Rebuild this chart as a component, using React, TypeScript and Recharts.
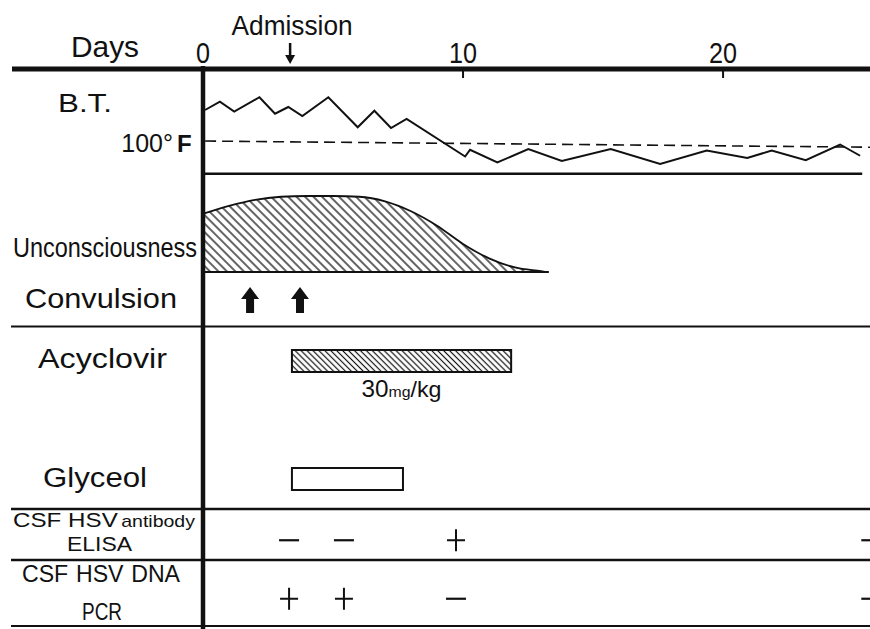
import React from 'react';
import {
  ComposedChart,
  ScatterChart,
  BarChart,
  Line,
  Area,
  Bar,
  Cell,
  Scatter,
  LabelList,
  XAxis,
  YAxis,
  ReferenceLine,
} from 'recharts';

// ---------- data ----------
const dayTicks = [0, 10, 20];
const admissionDay = 3.35;

const btDays = [0.08, 0.65, 1.2, 2.17, 2.77, 3.28, 3.82, 4.82, 5.95, 6.59, 7.23, 7.83, 10.08, 10.27, 11.32, 12.51, 13.8, 15.68, 17.58, 19.37, 20.93, 21.87, 23.18, 24.5, 25.27];
const btTempsF = [102.2, 102.75, 102.1, 103.05, 101.95, 102.4, 101.8, 103.05, 101.05, 102.15, 101.0, 101.6, 99.1, 99.55, 98.7, 99.6, 98.8, 99.6, 98.6, 99.5, 99.0, 99.5, 98.85, 99.9, 99.15];
const feverLineDays = [0.08, 25.65];
const feverLineTemps = [100.13, 99.72];

const uncDays = [0.05, 1, 2, 3, 4, 5, 6, 7, 8, 9, 10, 11, 12, 13, 13.2];
const uncLevels = [0.77, 0.87, 0.95, 0.99, 1, 1, 0.99, 0.93, 0.8, 0.61, 0.37, 0.18, 0.06, 0.01, 0];

const convulsionDays = [1.81, 3.73];

const drugNames = ['Acyclovir', 'Glyceol'];
const drugStart = [3.42, 3.42];
const drugEnd = [11.85, 7.69];
const drugDose = ['30mg/kg', ''];

const csfDays = [3.31, 5.42, 9.73, 25.7];
const elisaResults = ['-', '-', '+', '-'];
const pcrResults = ['+', '+', '-', '-'];

// ---------- layout ----------
const W = 870;
const LEFT = 203;
const X_DOMAIN: [number, number] = [0, 25.65];
const INK = '#111';
const SANS = "'Liberation Sans', Arial, sans-serif";

const btData = btDays.map((d, i) => ({ day: d, temp: btTempsF[i] }));
const uncData = uncDays.map((d, i) => ({ day: d, level: uncLevels[i] }));
const convData = convulsionDays.map((d) => ({ day: d, row: 0.5 }));
const drugData = drugNames.map((n, i) => ({ name: n, span: [drugStart[i], drugEnd[i]], dose: drugDose[i] }));
const elisaData = csfDays.map((d, i) => ({ day: d, row: 1.5, result: elisaResults[i] }));
const pcrData = csfDays.map((d, i) => ({ day: d, row: 0.5, result: pcrResults[i] }));

const DayTick = (props: any) => {
  const { x, y, payload } = props;
  const s = String(payload.value);
  return (
    <g>
      <text x={x} y={y} textAnchor="middle" fontSize={30} fontFamily={SANS} fill={INK}
        textLength={14 * s.length} lengthAdjust="spacingAndGlyphs">{s}</text>
      {payload.value !== 0 && (
        <line x1={x} x2={x} y1={y + 6} y2={y + 15} stroke={INK} strokeWidth={2} />
      )}
    </g>
  );
};

const renderAdmission = (props: any) => {
  const vb = props.viewBox || {};
  const x = vb.x;
  const top = vb.y;
  return (
    <g>
      <text x={x + 2} y={top - 34} textAnchor="middle" fontSize={27} fontFamily={SANS} fill={INK}
        textLength={121} lengthAdjust="spacingAndGlyphs">Admission</text>
      <line x1={x} x2={x} y1={top - 26} y2={top - 12} stroke={INK} strokeWidth={2.5} />
      <polygon points={`${x - 5},${top - 14} ${x + 5},${top - 14} ${x},${top - 5}`} fill={INK} />
    </g>
  );
};

const renderDose = (props: any) => {
  const { x, y, width, height, value } = props;
  if (!value) return null;
  const cx = x + width / 2;
  return (
    <text x={cx} y={y + height + 25} textAnchor="middle" fontFamily={SANS} fill={INK}
      textLength={80} lengthAdjust="spacingAndGlyphs">
      <tspan fontSize={23}>30</tspan>
      <tspan fontSize={15}>mg</tspan>
      <tspan fontSize={22}>/kg</tspan>
    </text>
  );
};

const ArrowUp = (props: any) => {
  const { cx, cy } = props;
  const pts = [
    [cx, cy - 14], [cx - 9, cy - 2], [cx - 4, cy - 2], [cx - 4, cy + 12],
    [cx + 4, cy + 12], [cx + 4, cy - 2], [cx + 9, cy - 2],
  ].map((p) => p.join(',')).join(' ');
  return <polygon points={pts} fill={INK} />;
};

const Sign = (props: any) => {
  const { cx, cy, payload } = props;
  if (payload.result === '+') {
    return (
      <g stroke={INK} strokeWidth={2}>
        <line x1={cx - 9} x2={cx + 9} y1={cy} y2={cy} />
        <line x1={cx} x2={cx} y1={cy - 11} y2={cy + 11} />
      </g>
    );
  }
  return <line x1={cx - 10} x2={cx + 10} y1={cy} y2={cy} stroke={INK} strokeWidth={2.2} />;
};

function Frame() {
  const t = { fontFamily: SANS, fill: INK } as const;
  return (
    <svg width={W} height={629} style={{ position: 'absolute', left: 0, top: 0 }}>
      <defs>
        <pattern id="hatchWide" width="6" height="6" patternUnits="userSpaceOnUse" patternTransform="rotate(-45)">
          <line x1="3" y1="0" x2="3" y2="6" stroke={INK} strokeWidth="1.3" />
        </pattern>
        <pattern id="hatchDense" width="4.2" height="4.2" patternUnits="userSpaceOnUse" patternTransform="rotate(-45)">
          <line x1="2.1" y1="0" x2="2.1" y2="4.2" stroke={INK} strokeWidth="1.2" />
        </pattern>
      </defs>
      <rect x={0} y={0} width={W} height={629} fill="#fff" />
      {/* table rules */}
      <line x1={12} x2={LEFT} y1={69} y2={69} stroke={INK} strokeWidth={5} />
      <line x1={LEFT} x2={LEFT} y1={66} y2={629} stroke={INK} strokeWidth={4.5} />
      <line x1={11} x2={W} y1={326.5} y2={326.5} stroke={INK} strokeWidth={2.2} />
      <line x1={11} x2={W} y1={509} y2={509} stroke={INK} strokeWidth={2.5} />
      <line x1={11} x2={W} y1={560} y2={560} stroke={INK} strokeWidth={2.5} />
      <line x1={11} x2={W} y1={626} y2={626} stroke={INK} strokeWidth={2} />
      {/* row labels */}
      <text x={71} y={57} fontSize={30} textLength={68} lengthAdjust="spacingAndGlyphs" {...t}>Days</text>
      <text x={58} y={112} fontSize={26} textLength={54} lengthAdjust="spacingAndGlyphs" {...t}>B.T.</text>
      <text x={173} y={152} fontSize={25} textAnchor="end" {...t}>100°</text>
      <text x={177} y={152} fontSize={24} fontWeight="bold" {...t}>F</text>
      <text x={13} y={257} fontSize={28} textLength={184} lengthAdjust="spacingAndGlyphs" {...t}>Unconsciousness</text>
      <text x={25} y={308} fontSize={28} textLength={152} lengthAdjust="spacingAndGlyphs" {...t}>Convulsion</text>
      <text x={38} y={368} fontSize={27} textLength={129} lengthAdjust="spacingAndGlyphs" {...t}>Acyclovir</text>
      <text x={43} y={487} fontSize={27} textLength={104} lengthAdjust="spacingAndGlyphs" {...t}>Glyceol</text>
      <text x={13} y={527} textLength={182} lengthAdjust="spacingAndGlyphs" {...t}>
        <tspan fontSize={21}>CSF</tspan>
        <tspan fontSize={21} dx={6}>HSV</tspan>
        <tspan fontSize={17} dx={3}>antibody</tspan>
      </text>
      <text x={99.5} y={551} fontSize={20} textAnchor="middle" textLength={65} lengthAdjust="spacingAndGlyphs" {...t}>ELISA</text>
      <text x={22} y={582} fontSize={24} textLength={158} lengthAdjust="spacingAndGlyphs" {...t}>
        <tspan>CSF</tspan>
        <tspan dx={8}>HSV</tspan>
        <tspan dx={8}>DNA</tspan>
      </text>
      <text x={102} y={620} fontSize={24} textAnchor="middle" textLength={40} lengthAdjust="spacingAndGlyphs" {...t}>PCR</text>
    </svg>
  );
}

const abs = (top: number): React.CSSProperties => ({ position: 'absolute', left: 0, top });

export default function App() {
  return (
    <div style={{ position: 'absolute', left: 0, top: 0, width: W, height: 629, overflow: 'hidden', background: '#fff' }}>
      <Frame />

      {/* Days axis + body temperature */}
      <div style={abs(0)}>
        <ComposedChart width={W} height={176} data={btData} margin={{ top: 39, right: 0, bottom: 1, left: LEFT }}>
          <XAxis type="number" dataKey="day" orientation="top" domain={X_DOMAIN} allowDataOverflow
            ticks={dayTicks} height={30} tickSize={0} tickMargin={6} tickLine={false}
            axisLine={{ stroke: INK, strokeWidth: 5 }} tick={<DayTick />} interval={0} />
          <YAxis type="number" domain={[97.867, 104.933]} allowDataOverflow hide />
          <ReferenceLine
            segment={[{ x: feverLineDays[0], y: feverLineTemps[0] }, { x: feverLineDays[1], y: feverLineTemps[1] }]}
            stroke={INK} strokeWidth={1.6} strokeDasharray="11 6" ifOverflow="visible" />
          <ReferenceLine segment={[{ x: 0, y: 97.95 }, { x: 25.35, y: 97.95 }]} stroke={INK} strokeWidth={2.5} ifOverflow="visible" />
          <ReferenceLine x={admissionDay} stroke="none" label={renderAdmission} />
          <Line type="linear" dataKey="temp" stroke={INK} strokeWidth={2} dot={false} isAnimationActive={false} />
        </ComposedChart>
      </div>

      {/* Unconsciousness */}
      <div style={abs(176)}>
        <ComposedChart width={W} height={104} data={uncData} margin={{ top: 0, right: 0, bottom: 0, left: LEFT }}>
          <XAxis type="number" dataKey="day" domain={X_DOMAIN} allowDataOverflow hide />
          <YAxis type="number" domain={[-0.105, 1.263]} allowDataOverflow hide />
          <Area type="monotone" dataKey="level" baseValue={0} stroke={INK} strokeWidth={1.8}
            fill="url(#hatchWide)" fillOpacity={1} isAnimationActive={false} />
          <ReferenceLine segment={[{ x: 0, y: 0 }, { x: 13.3, y: 0 }]} stroke={INK} strokeWidth={2} ifOverflow="visible" />
        </ComposedChart>
      </div>

      {/* Convulsion */}
      <div style={abs(278)}>
        <ScatterChart width={W} height={46} margin={{ top: 0, right: 0, bottom: 0, left: LEFT }}>
          <XAxis type="number" dataKey="day" domain={X_DOMAIN} allowDataOverflow hide />
          <YAxis type="number" dataKey="row" domain={[0, 1]} hide />
          <Scatter data={convData} shape={<ArrowUp />} isAnimationActive={false} />
        </ScatterChart>
      </div>

      {/* Treatments */}
      <div style={abs(302)}>
        <BarChart width={W} height={236} data={drugData} layout="vertical" margin={{ top: 0, right: 0, bottom: 0, left: LEFT }}>
          <XAxis type="number" domain={X_DOMAIN} allowDataOverflow hide />
          <YAxis type="category" dataKey="name" hide />
          <Bar dataKey="span" barSize={22} stroke={INK} strokeWidth={2} isAnimationActive={false}>
            {drugData.map((d, i) => (
              <Cell key={d.name} fill={i === 0 ? 'url(#hatchDense)' : '#fff'} />
            ))}
            <LabelList dataKey="dose" content={renderDose} />
          </Bar>
        </BarChart>
      </div>

      {/* CSF tests */}
      <div style={abs(511)}>
        <ScatterChart width={W} height={117} margin={{ top: 0, right: 0, bottom: 0, left: LEFT }}>
          <XAxis type="number" dataKey="day" domain={X_DOMAIN} allowDataOverflow hide />
          <YAxis type="number" dataKey="row" domain={[0, 2]} hide />
          <Scatter data={elisaData} shape={<Sign />} isAnimationActive={false} />
          <Scatter data={pcrData} shape={<Sign />} isAnimationActive={false} />
        </ScatterChart>
      </div>
    </div>
  );
}
